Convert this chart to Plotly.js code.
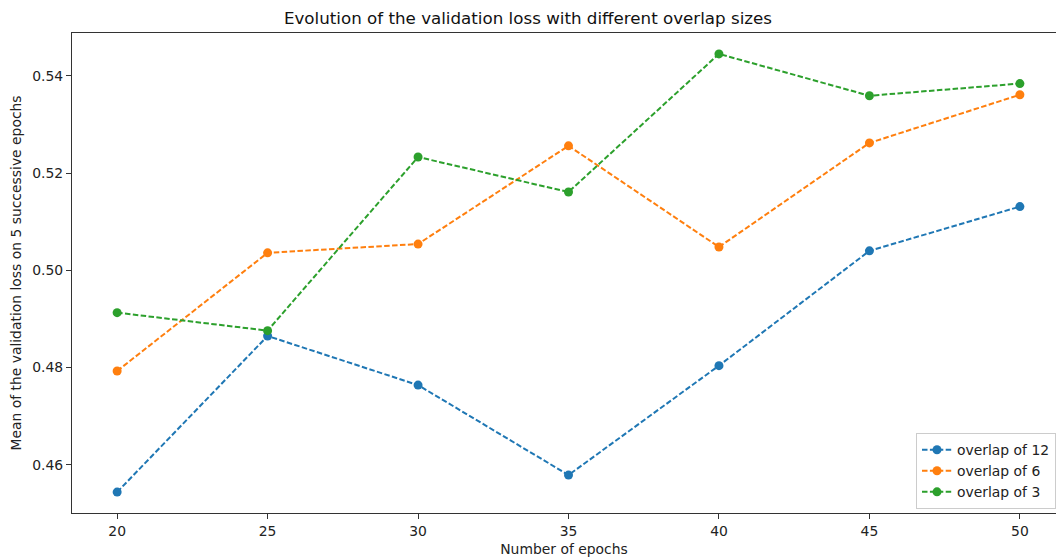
<!DOCTYPE html>
<html><head><meta charset="utf-8">
<script src="https://cdn.plot.ly/plotly-3.0.1.min.js"></script>
<style>body{margin:0;padding:0;background:#fff}#c{width:1056px;height:558px}</style>
</head><body><div id="c"></div>
<script>
const epochs = [20, 25, 30, 35, 40, 45, 50];
const overlap12 = [0.4544, 0.4865, 0.4764, 0.4579, 0.4804, 0.5040, 0.5131];
const overlap6  = [0.4793, 0.5036, 0.5054, 0.5256, 0.5048, 0.5262, 0.5361];
const overlap3  = [0.4913, 0.4876, 0.5233, 0.5161, 0.5445, 0.5359, 0.5384];
const names = ['overlap of 12', 'overlap of 6', 'overlap of 3'];
const colors = ['#1f77b4', '#ff7f0e', '#2ca02c'];
const tickVals = [0.46, 0.48, 0.50, 0.52, 0.54];
const tickText = ['0.46', '0.48', '0.50', '0.52', '0.54'];

const series = [overlap12, overlap6, overlap3];
const traces = series.map((ys, i) => ({
  x: epochs, y: ys, name: names[i], type: 'scatter', mode: 'lines+markers',
  line: {color: colors[i], width: 2, dash: '5.5px,2.4px'},
  marker: {color: colors[i], size: 9}
}));

const font = {family: 'DejaVu Sans, sans-serif', size: 13.9, color: '#222'};
const layout = {
  width: 1056, height: 558,
  margin: {l: 72, r: 0, t: 33, b: 45, pad: 0},
  paper_bgcolor: '#fff', plot_bgcolor: '#fff',
  font: font,
  showlegend: true,
  title: {text: 'Evolution of the validation loss with different overlap sizes',
          font: {family: 'DejaVu Sans, sans-serif', size: 16.7, color: '#111'},
          x: 0.5, xanchor: 'center', y: 1 - 18/558, yanchor: 'middle'},
  xaxis: {
    range: [18.5, 51.2], tickvals: epochs, ticktext: epochs.map(String),
    showgrid: false, zeroline: false, showline: true, linecolor: '#333', linewidth: 1,
    mirror: true, ticks: 'outside', ticklen: 5, tickcolor: '#333', tickwidth: 1,
    tickfont: font,
    title: {text: 'Number of epochs', font: font, standoff: 6}
  },
  yaxis: {
    range: [0.4501, 0.5488], tickvals: tickVals, ticktext: tickText,
    showgrid: false, zeroline: false, showline: true, linecolor: '#333', linewidth: 1,
    ticks: 'outside', ticklen: 5, tickcolor: '#333', tickwidth: 1,
    tickfont: font,
    title: {text: 'Mean of the validation loss on 5 successive epochs', font: font, standoff: 7}
  },
  legend: {
    x: 0.858, y: 0.008, xanchor: 'left', yanchor: 'bottom',
    bgcolor: 'rgba(255,255,255,0.8)', bordercolor: '#ccc', borderwidth: 1,
    font: font, tracegroupgap: 0, itemwidth: 30
  }
};
Plotly.newPlot('c', traces, layout, {displayModeBar: false, staticPlot: true});
</script></body></html>
